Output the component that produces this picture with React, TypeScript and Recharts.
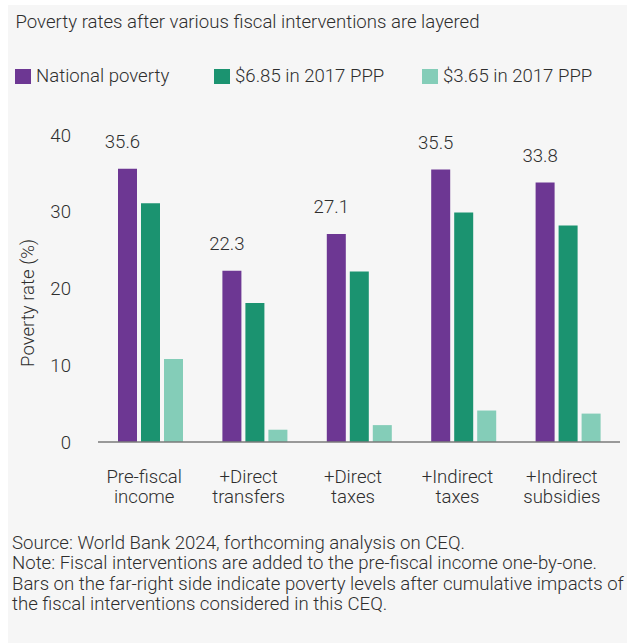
import React from 'react';
import { Bar, BarChart, LabelList, XAxis, YAxis } from 'recharts';

const categories = ['Pre-fiscal\nincome', '+Direct\ntransfers', '+Direct\ntaxes', '+Indirect\ntaxes', '+Indirect\nsubsidies'];
const nationalPoverty = [35.6, 22.3, 27.1, 35.5, 33.8];
const ppp685 = [31.1, 18.1, 22.2, 29.9, 28.2];
const ppp365 = [10.8, 1.6, 2.2, 4.1, 3.7];
const yTicks = [0, 10, 20, 30, 40];

const seriesNames = ['National poverty', '$6.85 in 2017 PPP', '$3.65 in 2017 PPP'];
const title = 'Poverty rates after various fiscal interventions are layered';
const footnotes = [
  'Source: World Bank 2024, forthcoming analysis on CEQ.',
  'Note: Fiscal interventions are added to the pre-fiscal income one-by-one.',
  'Bars on the far-right side indicate poverty levels after cumulative impacts of',
  'the fiscal interventions considered in this CEQ.',
];

const COLORS = ['#6d3793', '#1b9370', '#84cdb8'];
const FONT = 'Roboto, "Noto Sans", sans-serif';
const TEXT = '#2e2e2e';
const WEIGHT = 300;
const SIZE = 18.6;

const data = categories.map((c, i) => ({
  name: c,
  national: nationalPoverty[i],
  p685: ppp685[i],
  p365: ppp365[i],
}));

const seriesKeys = ['national', 'p685', 'p365'];
const legendLeft = [7, 206, 414];

function CategoryTick({ x, y, payload }: any) {
  const lines = String(payload.value).split('\n');
  return (
    <text x={x - 6} y={y + 41} textAnchor="middle" fill={TEXT} fontSize={SIZE} fontWeight={WEIGHT} fontFamily={FONT}>
      {lines.map((l, i) => (
        <tspan key={i} x={x - 6} dy={i === 0 ? 0 : 20}>
          {l}
        </tspan>
      ))}
    </text>
  );
}

function ValueLabel({ x, y, width, value }: any) {
  return (
    <text x={x + width / 2 - 5} y={y - 21} textAnchor="middle" fill={TEXT} fontSize={SIZE} fontWeight={WEIGHT} fontFamily={FONT}>
      {Number(value).toFixed(1)}
    </text>
  );
}

function AxisTitle({ viewBox }: any) {
  const cx = viewBox.x + 20;
  const cy = viewBox.y + viewBox.height / 2 + 14.5;
  return (
    <text
      x={cx}
      y={cy}
      transform={`rotate(-90, ${cx}, ${cy})`}
      textAnchor="middle"
      dominantBaseline="central"
      fill={TEXT}
      fontSize={SIZE}
      fontWeight={WEIGHT}
      fontFamily={FONT}
    >
      Poverty rate (%)
    </text>
  );
}

export default function App() {
  return (
    <div
      style={{
        position: 'absolute',
        left: 8,
        top: 5,
        width: 619,
        height: 638,
        background: '#f6f6f6',
        fontFamily: FONT,
        fontWeight: WEIGHT,
        color: TEXT,
        fontSize: SIZE,
        lineHeight: '20px',
      }}
    >
      <div style={{ position: 'absolute', left: 7.5, top: 7, whiteSpace: 'nowrap' }}>{title}</div>

      {seriesNames.map((s, i) => (
        <div key={s} style={{ position: 'absolute', left: legendLeft[i], top: 61, display: 'flex', alignItems: 'center', whiteSpace: 'nowrap' }}>
          <span style={{ display: 'inline-block', width: 16, height: 15, background: COLORS[i], marginRight: 5 }} />
          <span>{s}</span>
        </div>
      ))}

      <div style={{ position: 'absolute', left: 0, top: 95 }}>
        <BarChart
          width={619}
          height={420}
          data={data}
          margin={{ top: 35, right: 7, left: 0, bottom: 18 }}
          barSize={19}
          barGap={4}
        >
          <XAxis
            dataKey="name"
            height={60}
            interval={0}
            tickSize={0}
            tickMargin={0}
            tick={<CategoryTick />}
            axisLine={{ stroke: '#7a7a7a', strokeWidth: 1.5 }}
          />
          <YAxis
            width={90}
            domain={[0, 40]}
            ticks={yTicks}
            axisLine={false}
            tickLine={false}
            tickSize={0}
            tickMargin={27}
            tick={{ fill: TEXT, fontSize: SIZE, fontWeight: WEIGHT, fontFamily: FONT }}
            label={<AxisTitle />}
          />
          {seriesKeys.map((k, i) => (
            <Bar key={k} dataKey={k} name={seriesNames[i]} fill={COLORS[i]} isAnimationActive={false}>
              {i === 0 && <LabelList dataKey={k} content={<ValueLabel />} />}
            </Bar>
          ))}
        </BarChart>
      </div>

      <div style={{ position: 'absolute', left: 4, top: 528, lineHeight: '20.3px' }}>
        {footnotes.map((f) => (
          <div key={f} style={{ whiteSpace: 'nowrap' }}>
            {f}
          </div>
        ))}
      </div>
    </div>
  );
}
